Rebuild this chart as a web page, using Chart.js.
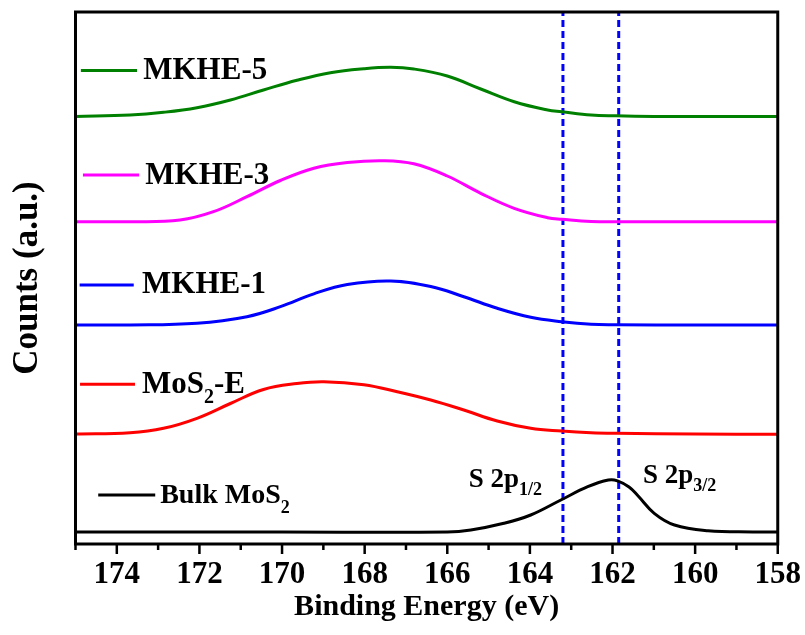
<!DOCTYPE html>
<html>
<head>
<meta charset="utf-8">
<script src="https://cdn.jsdelivr.net/npm/chart.js@4/dist/chart.umd.min.js"></script>
<style>
  html, body { margin: 0; padding: 0; background: #ffffff; }
</style>
</head>
<body>
<canvas id="xps" width="805" height="635"></canvas>
<script>
// S 2p XPS spectra, offset vertically (arbitrary units)
const bulkEnergy = [175, 170, 166, 165.43, 164.63, 163.98, 163.25, 162.6, 162.1, 161.88, 161.6, 161.39, 160.99, 160.5, 159.69, 158.6, 158];
const bulkMoS2   = [12, 12, 12, 14, 20.7, 29, 44, 57.3, 64, 63.2, 57, 48.5, 30.7, 19, 13.3, 12, 12];

const mos2EEnergy = [175, 173.68, 172.87, 172.06, 171.25, 170.45, 169.64, 168.99, 168.02, 167.21, 166.4, 165.6, 164.79, 163.98, 163.23, 162.52, 161.9, 160, 158];
const mos2E       = [110, 111.3, 115.7, 125.7, 140.5, 154.5, 160.5, 162.3, 159.3, 152.3, 144, 134, 123, 115.7, 113, 111.3, 110.7, 109.9, 109.7];

const mkhe1Energy = [175, 173.68, 172.06, 170.85, 170.04, 169.23, 168.42, 167.37, 166.4, 165.6, 164.79, 163.98, 163.23, 162.52, 161.9, 160, 158];
const mkhe1       = [219, 219, 220.7, 227.3, 237.3, 250.2, 259.5, 263, 257.5, 247.3, 235.7, 226.7, 222.3, 219.7, 219.3, 219, 219];

const mkhe3Energy = [175, 173.68, 172.47, 171.66, 170.85, 170.04, 169.23, 168.42, 167.54, 166.81, 166.0, 165.19, 164.38, 163.57, 163.23, 162.52, 160.5, 158];
const mkhe3       = [322.3, 322.3, 324, 332.3, 347.3, 363.5, 375.8, 381.5, 383.3, 380.2, 368, 350.7, 335.7, 326.3, 324.7, 322.5, 322.3, 322.3];

const mkhe5Energy = [175, 173.68, 172.87, 172.06, 171.25, 170.45, 169.64, 168.83, 168.02, 167.37, 166.81, 166.0, 165.19, 164.38, 163.57, 163.23, 162.52, 161.92, 161, 159.86, 158];
const mkhe5       = [427.5, 429, 431.7, 436.3, 444, 454, 463.7, 471.3, 475.3, 476.7, 475.0, 468.0, 455, 442.3, 434, 432.3, 429, 428.2, 427.6, 427.4, 427.4];

// S 2p1/2 and S 2p3/2 reference positions (eV)
const peakLines = [163.2, 161.85];

const tickLabels = [174, 172, 170, 168, 166, 164, 162, 160, 158];

const SERIF = "'Liberation Serif', 'Times New Roman', serif";

const series = [
  { name: [['Bulk MoS'], ['2', true]],        energy: bulkEnergy,  values: bulkMoS2, color: '#000000' },
  { name: [['MoS'], ['2', true], ['-E']],     energy: mos2EEnergy, values: mos2E,    color: '#ff0000' },
  { name: [['MKHE-1']],                       energy: mkhe1Energy, values: mkhe1,    color: '#0000ff' },
  { name: [['MKHE-3']],                       energy: mkhe3Energy, values: mkhe3,    color: '#ff00ff' },
  { name: [['MKHE-5']],                       energy: mkhe5Energy, values: mkhe5,    color: '#008000' }
];

// in-plot key placement (eV, counts) for each series, plus text style
const keyLayout = [
  { x0: 174.45, x1: 173.07, y: 49,    tx: 172.95, ty: 41,  size: 28, sub: 18, drop: 10 },
  { x0: 174.89, x1: 173.56, y: 159.7, tx: 173.39, ty: 151, size: 31, sub: 20, drop: 10 },
  { x0: 174.90, x1: 173.59, y: 259,   tx: 173.39, ty: 251, size: 31, sub: 20, drop: 10 },
  { x0: 174.82, x1: 173.46, y: 369,   tx: 173.31, ty: 360, size: 31, sub: 20, drop: 10 },
  { x0: 174.87, x1: 173.51, y: 473.5, tx: 173.36, ty: 465, size: 31, sub: 20, drop: 10 }
];

const peakText = [
  { parts: [['S 2p'], ['1/2', true]], x: 165.48, y: 57 },
  { parts: [['S 2p'], ['3/2', true]], x: 161.26, y: 61 }
];

function drawRich(ctx, parts, x, y, size, subSize, drop) {
  let cx = x;
  parts.forEach(([txt, sub]) => {
    ctx.font = `bold ${sub ? subSize : size}px ${SERIF}`;
    ctx.fillText(txt, cx, y + (sub ? drop : 0));
    cx += ctx.measureText(txt).width;
  });
}

const datasets = series.map(s => ({
  data: s.energy.map((e, i) => ({ x: e, y: s.values[i] })),
  borderColor: s.color,
  borderWidth: 3,
  pointRadius: 0,
  fill: false,
  tension: 0.4
}));

peakLines.forEach(e => datasets.push({
  data: [{ x: e, y: 0 }, { x: e, y: 532 }],
  borderColor: '#0000ff',
  borderWidth: 3,
  borderDash: [7, 4],
  pointRadius: 0,
  fill: false
}));

const decorations = {
  id: 'decorations',
  afterDatasetsDraw(chart) {
    const { ctx, chartArea: a, scales: { x, y } } = chart;
    ctx.save();
    ctx.strokeStyle = '#000';
    ctx.lineWidth = 3;
    ctx.lineCap = 'butt';
    ctx.strokeRect(a.left, a.top, a.right - a.left, a.bottom - a.top);

    // outward ticks: long at labelled energies, short in between
    ctx.lineWidth = 2.5;
    for (let v = 158; v <= 175; v++) {
      const px = x.getPixelForValue(v);
      const len = v % 2 === 0 ? 10 : 6;
      ctx.beginPath();
      ctx.moveTo(px, a.bottom);
      ctx.lineTo(px, a.bottom + len);
      ctx.stroke();
    }

    // series keys
    ctx.textBaseline = 'alphabetic';
    ctx.textAlign = 'left';
    series.forEach((s, i) => {
      const k = keyLayout[i];
      ctx.strokeStyle = s.color;
      ctx.lineWidth = 3;
      ctx.beginPath();
      ctx.moveTo(x.getPixelForValue(k.x0), y.getPixelForValue(k.y));
      ctx.lineTo(x.getPixelForValue(k.x1), y.getPixelForValue(k.y));
      ctx.stroke();
      ctx.fillStyle = '#000';
      drawRich(ctx, s.name, x.getPixelForValue(k.tx), y.getPixelForValue(k.ty), k.size, k.sub, k.drop);
    });

    // peak annotations
    peakText.forEach(p => {
      drawRich(ctx, p.parts, x.getPixelForValue(p.x), y.getPixelForValue(p.y), 27, 18, 8);
    });
    ctx.restore();
  }
};

new Chart(document.getElementById('xps'), {
  type: 'line',
  data: { datasets },
  plugins: [decorations],
  options: {
    responsive: false,
    animation: false,
    layout: { padding: { left: 0, right: 21, top: 12, bottom: 0 } },
    plugins: { legend: { display: false }, tooltip: { enabled: false } },
    scales: {
      x: {
        type: 'linear',
        reverse: true,
        min: 158,
        max: 175,
        grid: { display: false },
        border: { display: false },
        ticks: {
          stepSize: 1,
          autoSkip: false,
          maxRotation: 0,
          padding: 4,
          color: '#000',
          font: { family: SERIF, size: 31, weight: 'bold' },
          callback: v => tickLabels.includes(v) ? String(v) : ''
        },
        title: {
          display: true,
          text: 'Binding Energy (eV)',
          color: '#000',
          font: { family: SERIF, size: 30, weight: 'bold', lineHeight: 1.2 },
          padding: { top: 0, bottom: 10 }
        },
        afterFit(scale) { scale.height = 91; }
      },
      y: {
        type: 'linear',
        min: 0,
        max: 532,
        grid: { display: false },
        border: { display: false },
        ticks: { display: false },
        title: {
          display: true,
          text: 'Counts (a.u.)',
          color: '#000',
          font: { family: SERIF, size: 35, weight: 'bold', lineHeight: 1.2 },
          padding: { top: 7, bottom: 0 }
        },
        afterFit(scale) { scale.width = 75.5; }
      }
    }
  }
});
</script>
</body>
</html>
